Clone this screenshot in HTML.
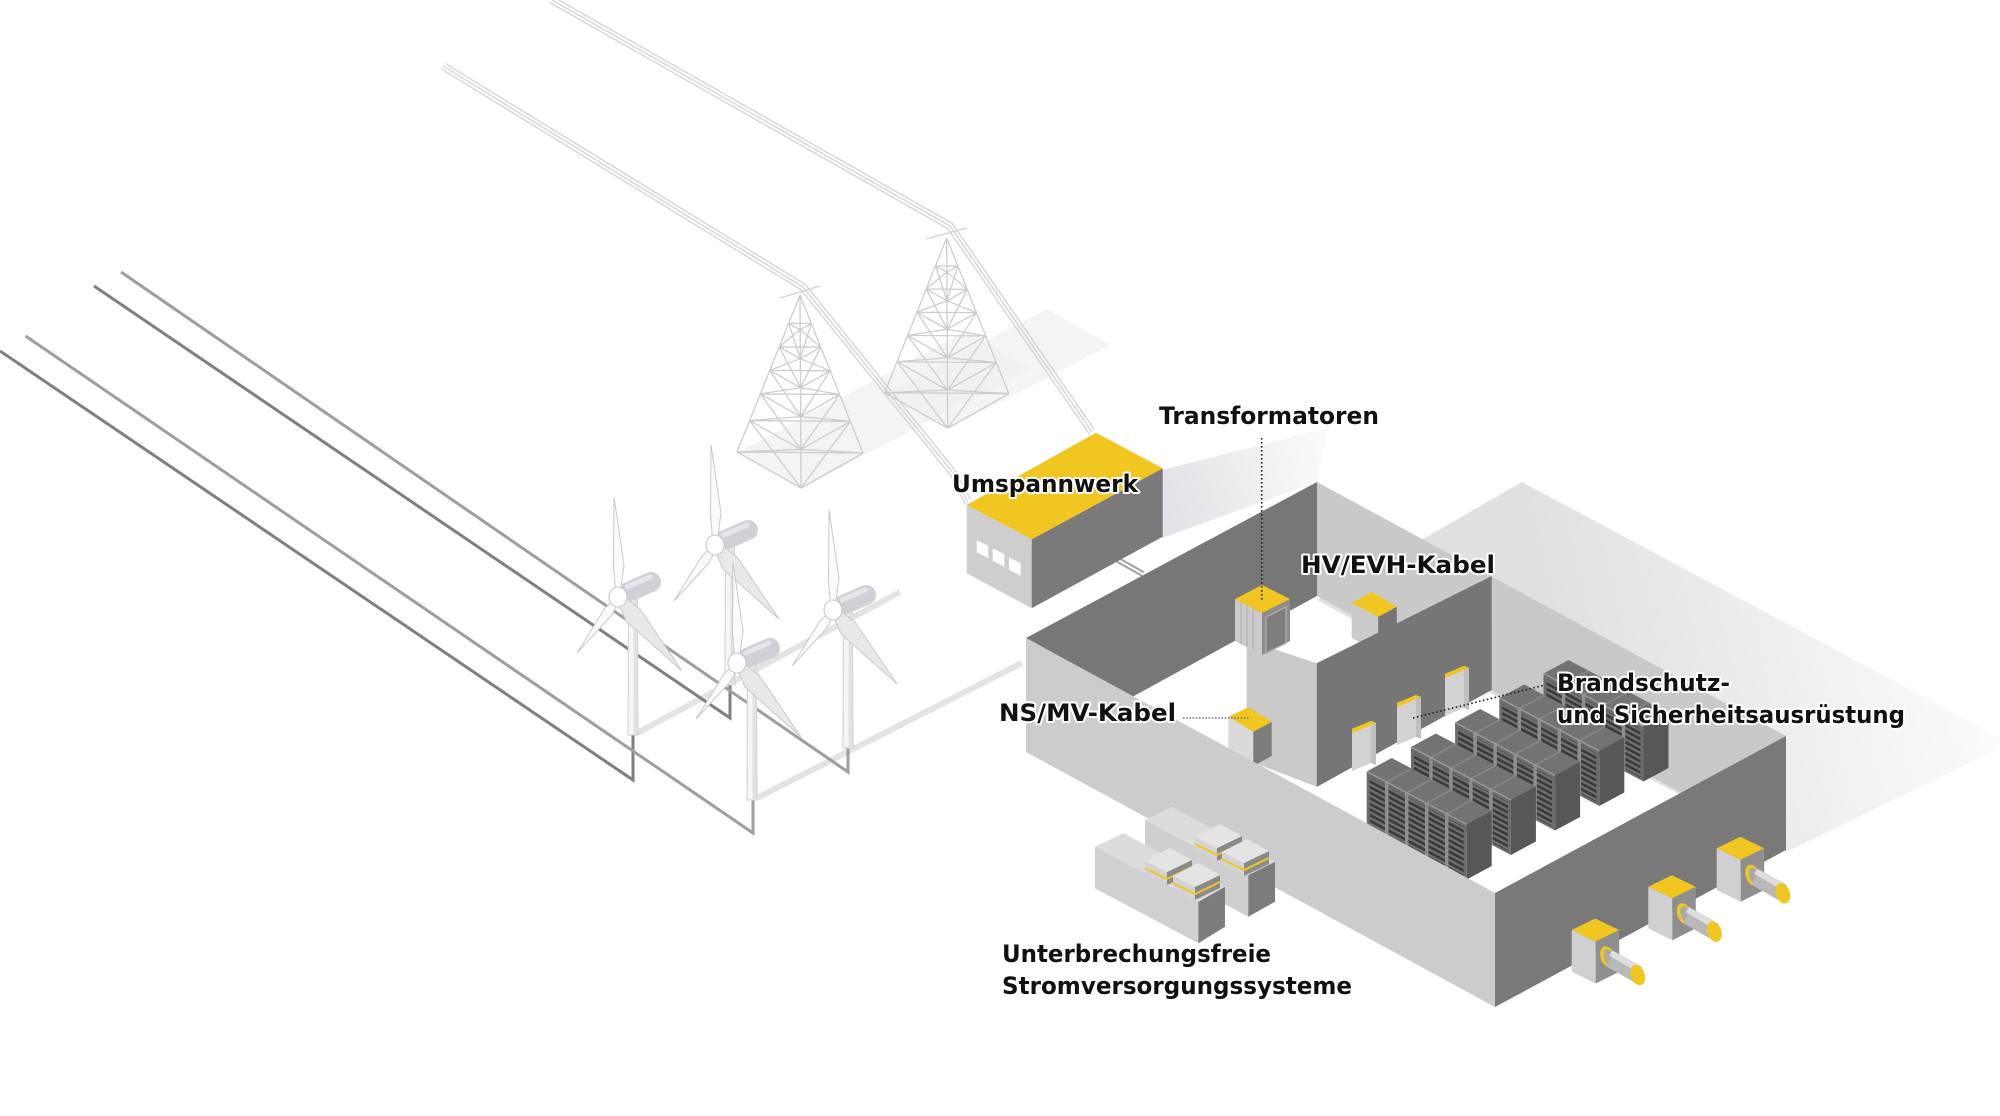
<!DOCTYPE html>
<html><head><meta charset="utf-8">
<style>
html,body{margin:0;padding:0;background:#fff;}
svg{display:block;}
.lbl{font-family:"DejaVu Sans","Liberation Sans",sans-serif;font-weight:bold;font-size:24px;fill:#111;stroke:#fff;stroke-width:4px;paint-order:stroke;stroke-linejoin:round;}
</style></head><body>
<svg width="2000" height="1116" viewBox="0 0 2000 1116" xmlns="http://www.w3.org/2000/svg">
<defs>
 <linearGradient id="bshadow" gradientUnits="userSpaceOnUse" x1="1560" y1="660" x2="1990" y2="560">
  <stop offset="0" stop-color="#e0e0e0"/><stop offset="1" stop-color="#fefefe"/>
 </linearGradient>
 <linearGradient id="ushadow" gradientUnits="userSpaceOnUse" x1="1163" y1="500" x2="1330" y2="450">
  <stop offset="0" stop-color="#e2e2e7"/><stop offset="1" stop-color="#fbfbfb"/>
 </linearGradient>
 <pattern id="vent" width="20" height="5.6" patternUnits="userSpaceOnUse" patternTransform="skewY(28)">
  <rect width="20" height="5.6" fill="#707070"/>
  <rect y="1.2" width="20" height="3" fill="#3a3a3a"/>
 </pattern>
</defs>
<rect width="2000" height="1116" fill="#fff"/>

<!-- shadows -->
<polygon points="1522,482 2010,743 1786,852 1317,600" fill="url(#bshadow)"/>
<polygon points="1162,470 1328,428 1317,482 1162,538" fill="url(#ushadow)"/>
<polygon points="738,452 801,489 1030,368 967,331" fill="#f0f0f0" opacity="0.7"/>
<polygon points="885,393 948,429 1110,345 1047,309" fill="#f0f0f0" opacity="0.7"/>

<!-- power lines -->
<g fill="none" stroke="#d2d2d2" stroke-width="1.3">
 <polyline points="552,0 950,226 1092,432"/>
 <polyline points="552,0 950,226 1092,432" transform="translate(-2.3,2.5)"/>
 <polyline points="552,0 950,226 1092,432" transform="translate(2.3,-2.5)"/>
 <polyline points="443,66 803,287 953,473 968,502"/>
 <polyline points="443,66 803,287 953,473 968,502" transform="translate(-2.3,2.5)"/>
 <polyline points="443,66 803,287 953,473 968,502" transform="translate(2.3,-2.5)"/>
 <line x1="780" y1="298" x2="820" y2="286"/>
 <line x1="926" y1="239" x2="967" y2="228"/>
</g>

<!-- pylons -->
<g fill="none" stroke="#cdcdcd" stroke-width="1.3">
 <g transform="translate(800,295)">
  <path d="M0,0L-63,157M0,0L63,158M0,0L1,193
  M-11.3,28.3L0.2,34.7L11.3,28.4M-11.3,28.3L11.3,28.4
  M-20.8,51.8L0.3,63.7L20.8,52.1M-20.8,51.8L20.8,52.1
  M-30.2,75.4L0.5,92.6L30.2,75.8M-30.2,75.4L30.2,75.8
  M-39.7,98.9L0.6,121.6L39.7,99.5M-39.7,98.9L39.7,99.5
  M-50.4,125.6L0.8,154.4L50.4,126.4M-50.4,125.6L50.4,126.4
  M-63,157L1,193L63,158M-63,157L63,158
  M-11.3,28.3L0.3,63.7M0.2,34.7L-20.8,51.8M0.2,34.7L20.8,52.1M11.3,28.4L0.3,63.7
  M-20.8,51.8L0.5,92.6M0.3,63.7L-30.2,75.4M0.3,63.7L30.2,75.8M20.8,52.1L0.5,92.6
  M-30.2,75.4L0.6,121.6M0.5,92.6L-39.7,98.9M0.5,92.6L39.7,99.5M30.2,75.8L0.6,121.6
  M-39.7,98.9L0.8,154.4M0.6,121.6L-50.4,125.6M0.6,121.6L50.4,126.4M39.7,99.5L0.8,154.4
  M-50.4,125.6L1,193M0.8,154.4L-63,157M0.8,154.4L63,158M50.4,126.4L1,193"/>
 </g>
 <g transform="translate(946.7,238) scale(0.985)">
  <path d="M0,0L-63,157M0,0L63,158M0,0L1,193
  M-11.3,28.3L0.2,34.7L11.3,28.4M-11.3,28.3L11.3,28.4
  M-20.8,51.8L0.3,63.7L20.8,52.1M-20.8,51.8L20.8,52.1
  M-30.2,75.4L0.5,92.6L30.2,75.8M-30.2,75.4L30.2,75.8
  M-39.7,98.9L0.6,121.6L39.7,99.5M-39.7,98.9L39.7,99.5
  M-50.4,125.6L0.8,154.4L50.4,126.4M-50.4,125.6L50.4,126.4
  M-63,157L1,193L63,158M-63,157L63,158
  M-11.3,28.3L0.3,63.7M0.2,34.7L-20.8,51.8M0.2,34.7L20.8,52.1M11.3,28.4L0.3,63.7
  M-20.8,51.8L0.5,92.6M0.3,63.7L-30.2,75.4M0.3,63.7L30.2,75.8M20.8,52.1L0.5,92.6
  M-30.2,75.4L0.6,121.6M0.5,92.6L-39.7,98.9M0.5,92.6L39.7,99.5M30.2,75.8L0.6,121.6
  M-39.7,98.9L0.8,154.4M0.6,121.6L-50.4,125.6M0.6,121.6L50.4,126.4M39.7,99.5L0.8,154.4
  M-50.4,125.6L1,193M0.8,154.4L-63,157M0.8,154.4L63,158M50.4,126.4L1,193"/>
 </g>
</g>

<!-- ground cable bands -->
<line x1="637" y1="733" x2="900" y2="592" stroke="#e3e3e3" stroke-width="6"/>
<line x1="757" y1="798" x2="1022" y2="663" stroke="#e3e3e3" stroke-width="6"/>

<!-- dark ground lines -->
<g fill="none" stroke-width="3" stroke-linejoin="miter">
 <polyline points="0,351 633,780 633,735" stroke="#7f7f7f"/>
 <polyline points="25.5,336 753,833 753,798" stroke="#9e9e9e"/>
 <polyline points="94,286 730,718 730,685" stroke="#7f7f7f"/>
 <polyline points="121,272 848,772 848,748" stroke="#9e9e9e"/>
</g>

<!-- turbines (B, A, D, C) -->
<g transform="translate(715,545)">
 <polygon points="10.5,-2 19.5,-2 20,140 10,140" fill="#f6f6f6" stroke="#cfcfcf" stroke-width="1"/>
 <rect x="15.5" y="0" width="4" height="139" fill="#e2e2e2"/>
 <line x1="8" y1="-4" x2="33" y2="-15" stroke="#d0d0d7" stroke-width="20" stroke-linecap="round"/>
 <line x1="9" y1="-10" x2="32" y2="-20" stroke="#e6e6ea" stroke-width="5" stroke-linecap="round"/>
 <polygon points="2.5,-6 6,-32 -4,-100 -4.5,-30 -2.5,-6" fill="#fbfbfb" stroke="#c9c9c9" stroke-width="1"/>
 <polygon points="2,3 -7,19 -41,56 -13,11 -1,0" fill="#fbfbfb" stroke="#c9c9c9" stroke-width="1"/>
 <polygon points="4,-2 22,12 64,74 8,24 -1,3" fill="#e9e9e9" stroke="#c9c9c9" stroke-width="1"/>
 <ellipse cx="0" cy="0" rx="9" ry="10" fill="#fff" stroke="#c4c4c4" stroke-width="1"/>
</g>
<g transform="translate(618,597)">
 <polygon points="10.5,-2 19.5,-2 20,138 10,138" fill="#f6f6f6" stroke="#cfcfcf" stroke-width="1"/>
 <rect x="15.5" y="0" width="4" height="137" fill="#e2e2e2"/>
 <line x1="8" y1="-4" x2="33" y2="-15" stroke="#d0d0d7" stroke-width="20" stroke-linecap="round"/>
 <line x1="9" y1="-10" x2="32" y2="-20" stroke="#e6e6ea" stroke-width="5" stroke-linecap="round"/>
 <polygon points="2.5,-6 6,-32 -4,-100 -4.5,-30 -2.5,-6" fill="#fbfbfb" stroke="#c9c9c9" stroke-width="1"/>
 <polygon points="2,3 -7,19 -41,56 -13,11 -1,0" fill="#fbfbfb" stroke="#c9c9c9" stroke-width="1"/>
 <polygon points="4,-2 22,12 64,74 8,24 -1,3" fill="#e9e9e9" stroke="#c9c9c9" stroke-width="1"/>
 <ellipse cx="0" cy="0" rx="9" ry="10" fill="#fff" stroke="#c4c4c4" stroke-width="1"/>
</g>
<g transform="translate(833,610)">
 <polygon points="10.5,-2 19.5,-2 20,138 10,138" fill="#f6f6f6" stroke="#cfcfcf" stroke-width="1"/>
 <rect x="15.5" y="0" width="4" height="137" fill="#e2e2e2"/>
 <line x1="8" y1="-4" x2="33" y2="-15" stroke="#d0d0d7" stroke-width="20" stroke-linecap="round"/>
 <line x1="9" y1="-10" x2="32" y2="-20" stroke="#e6e6ea" stroke-width="5" stroke-linecap="round"/>
 <polygon points="2.5,-6 6,-32 -4,-100 -4.5,-30 -2.5,-6" fill="#fbfbfb" stroke="#c9c9c9" stroke-width="1"/>
 <polygon points="2,3 -7,19 -41,56 -13,11 -1,0" fill="#fbfbfb" stroke="#c9c9c9" stroke-width="1"/>
 <polygon points="4,-2 22,12 64,74 8,24 -1,3" fill="#e9e9e9" stroke="#c9c9c9" stroke-width="1"/>
 <ellipse cx="0" cy="0" rx="9" ry="10" fill="#fff" stroke="#c4c4c4" stroke-width="1"/>
</g>
<g transform="translate(737,663)">
 <polygon points="10.5,-2 19.5,-2 20,137 10,137" fill="#f6f6f6" stroke="#cfcfcf" stroke-width="1"/>
 <rect x="15.5" y="0" width="4" height="136" fill="#e2e2e2"/>
 <line x1="8" y1="-4" x2="33" y2="-15" stroke="#d0d0d7" stroke-width="20" stroke-linecap="round"/>
 <line x1="9" y1="-10" x2="32" y2="-20" stroke="#e6e6ea" stroke-width="5" stroke-linecap="round"/>
 <polygon points="2.5,-6 6,-32 -4,-100 -4.5,-30 -2.5,-6" fill="#fbfbfb" stroke="#c9c9c9" stroke-width="1"/>
 <polygon points="2,3 -7,19 -41,56 -13,11 -1,0" fill="#fbfbfb" stroke="#c9c9c9" stroke-width="1"/>
 <polygon points="4,-2 22,12 64,74 8,24 -1,3" fill="#e9e9e9" stroke="#c9c9c9" stroke-width="1"/>
 <ellipse cx="0" cy="0" rx="9" ry="10" fill="#fff" stroke="#c4c4c4" stroke-width="1"/>
</g>

<!-- Umspannwerk -->
<line x1="1118" y1="560" x2="1143" y2="574" stroke="#a0a0a0" stroke-width="6"/>
<line x1="1118" y1="560" x2="1143" y2="574" stroke="#fff" stroke-width="2"/>
<polygon points="966.7,505 1031.7,539.3 1031.7,608.3 966.7,573.3" fill="#cecece"/>
<polygon points="1031.7,539.3 1162.7,468.3 1162.7,536.7 1031.7,608.3" fill="#7a7a7a"/>
<polygon points="966.7,505 1096,432.7 1162.7,468.3 1031.7,539.3" fill="#f1c620"/>
<polygon points="976.7,540 988.3,546 988.3,558.3 976.7,552.3" fill="#fff"/>
<polygon points="992.7,548.3 1004.3,554.3 1004.3,566.7 992.7,560.7" fill="#fff"/>
<polygon points="1009,557.3 1020.7,563.3 1020.7,575.7 1009,569.7" fill="#fff"/>

<!-- building back walls -->
<polygon points="1026,638 1317,482 1317,596 1132,697" fill="#777777"/>
<polygon points="1317,482 1786,736 1681,793 1317,596" fill="#c9c9c9"/>

<!-- inner room -->
<polygon points="1246.7,640 1316.7,663.3 1316.7,786.7 1246.7,760" fill="#cacaca"/>
<!-- transformer -->
<polygon points="1235,599 1262,613 1262,655 1235,641" fill="#cbcbcb"/>
<g stroke="#b2b2b2" stroke-width="1.2">
 <line x1="1241" y1="603" x2="1241" y2="644"/>
 <line x1="1247" y1="606" x2="1247" y2="647"/>
 <line x1="1253" y1="609" x2="1253" y2="650"/>
</g>
<polygon points="1262,613 1290,599 1290,641 1262,655" fill="#8c8c8c"/>
<polygon points="1266,617 1286,607 1286,643 1266,653" fill="#7d7d7d" stroke="#a9a9a9" stroke-width="1.5"/>
<polygon points="1235,599 1262,585 1290,599 1262,613" fill="#f1c620"/>
<!-- HV box -->
<polygon points="1351.7,603.3 1378.3,616.7 1378.3,652 1351.7,638" fill="#cbcbcb"/>
<polygon points="1378.3,616.7 1396.7,606.7 1396.7,645 1378.3,655" fill="#767676"/>
<polygon points="1351.7,603.3 1371.7,591.7 1396.7,606.7 1378.3,616.7" fill="#f1c620"/>
<!-- partition dark face -->
<polygon points="1316.7,663.3 1491.7,576 1491.7,690 1316.7,787" fill="#767676"/>
<polygon points="1378.3,617 1396.7,607 1396.7,624 1378.3,633" fill="#767676"/>

<!-- fire safety units -->
<g transform="translate(1352,729)">
 <polygon points="0,0 19,-8 19,34 0,42" fill="#d2d2d2"/>
 <polygon points="19,-8 24,-6 24,36 19,34" fill="#c0c0c0"/>
 <polygon points="0,0 19,-8 24,-6 5,2" fill="#f1c620"/>
 <polygon points="0,0 19,-8 19,-4 0,4" fill="#f1c620"/>
</g>
<g transform="translate(1397,703)">
 <polygon points="0,0 19,-8 19,34 0,42" fill="#d2d2d2"/>
 <polygon points="19,-8 24,-6 24,36 19,34" fill="#c0c0c0"/>
 <polygon points="0,0 19,-8 24,-6 5,2" fill="#f1c620"/>
 <polygon points="0,0 19,-8 19,-4 0,4" fill="#f1c620"/>
</g>
<g transform="translate(1445,674)">
 <polygon points="0,0 19,-8 19,34 0,42" fill="#d2d2d2"/>
 <polygon points="19,-8 24,-6 24,36 19,34" fill="#c0c0c0"/>
 <polygon points="0,0 19,-8 24,-6 5,2" fill="#f1c620"/>
 <polygon points="0,0 19,-8 19,-4 0,4" fill="#f1c620"/>
</g>

<!-- NS unit -->
<polygon points="1228.3,716.7 1253.3,731.7 1253.3,765 1228.3,751" fill="#dadada"/>
<polygon points="1253.3,731.7 1271.7,721.7 1271.7,756 1253.3,766" fill="#7c7c7c"/>
<polygon points="1228.3,716.7 1248.3,707.3 1271.7,721.7 1253.3,731.7" fill="#f1c620"/>

<!-- rack rows, back to front -->
<g transform="translate(1543.5,673.5)">
 <polygon points="0,0 100,53 125,39.5 25,-13.5" fill="#737373"/>
 <polygon points="100,53 125,39.5 125,94.5 100,108" fill="#575757"/>
 <polygon points="0,0 100,53 100,108 0,55" fill="#6c6c6c"/>
 <polygon points="3,5.5 97,55.3 97,104 3,54" fill="url(#vent)"/>
 <g stroke="#8e8e8e" stroke-width="3.5"><line x1="20" y1="10.6" x2="20" y2="65.6"/><line x1="40" y1="21.2" x2="40" y2="76.2"/><line x1="60" y1="31.8" x2="60" y2="86.8"/><line x1="80" y1="42.4" x2="80" y2="97.4"/></g>
 <g stroke="#888" stroke-width="1.5"><line x1="20" y1="10.6" x2="45" y2="-2.9"/><line x1="40" y1="21.2" x2="65" y2="7.7"/><line x1="60" y1="31.8" x2="85" y2="18.3"/><line x1="80" y1="42.4" x2="105" y2="28.9"/></g>
 <line x1="0" y1="0" x2="100" y2="53" stroke="#999" stroke-width="1.5"/>
</g>
<g transform="translate(1499.3,698)">
 <polygon points="0,0 100,53 125,39.5 25,-13.5" fill="#737373"/>
 <polygon points="100,53 125,39.5 125,94.5 100,108" fill="#575757"/>
 <polygon points="0,0 100,53 100,108 0,55" fill="#6c6c6c"/>
 <polygon points="3,5.5 97,55.3 97,104 3,54" fill="url(#vent)"/>
 <g stroke="#8e8e8e" stroke-width="3.5"><line x1="20" y1="10.6" x2="20" y2="65.6"/><line x1="40" y1="21.2" x2="40" y2="76.2"/><line x1="60" y1="31.8" x2="60" y2="86.8"/><line x1="80" y1="42.4" x2="80" y2="97.4"/></g>
 <g stroke="#888" stroke-width="1.5"><line x1="20" y1="10.6" x2="45" y2="-2.9"/><line x1="40" y1="21.2" x2="65" y2="7.7"/><line x1="60" y1="31.8" x2="85" y2="18.3"/><line x1="80" y1="42.4" x2="105" y2="28.9"/></g>
 <line x1="0" y1="0" x2="100" y2="53" stroke="#999" stroke-width="1.5"/>
</g>
<g transform="translate(1455.1,722.5)">
 <polygon points="0,0 100,53 125,39.5 25,-13.5" fill="#737373"/>
 <polygon points="100,53 125,39.5 125,94.5 100,108" fill="#575757"/>
 <polygon points="0,0 100,53 100,108 0,55" fill="#6c6c6c"/>
 <polygon points="3,5.5 97,55.3 97,104 3,54" fill="url(#vent)"/>
 <g stroke="#8e8e8e" stroke-width="3.5"><line x1="20" y1="10.6" x2="20" y2="65.6"/><line x1="40" y1="21.2" x2="40" y2="76.2"/><line x1="60" y1="31.8" x2="60" y2="86.8"/><line x1="80" y1="42.4" x2="80" y2="97.4"/></g>
 <g stroke="#888" stroke-width="1.5"><line x1="20" y1="10.6" x2="45" y2="-2.9"/><line x1="40" y1="21.2" x2="65" y2="7.7"/><line x1="60" y1="31.8" x2="85" y2="18.3"/><line x1="80" y1="42.4" x2="105" y2="28.9"/></g>
 <line x1="0" y1="0" x2="100" y2="53" stroke="#999" stroke-width="1.5"/>
</g>
<g transform="translate(1410.9,747)">
 <polygon points="0,0 100,53 125,39.5 25,-13.5" fill="#737373"/>
 <polygon points="100,53 125,39.5 125,94.5 100,108" fill="#575757"/>
 <polygon points="0,0 100,53 100,108 0,55" fill="#6c6c6c"/>
 <polygon points="3,5.5 97,55.3 97,104 3,54" fill="url(#vent)"/>
 <g stroke="#8e8e8e" stroke-width="3.5"><line x1="20" y1="10.6" x2="20" y2="65.6"/><line x1="40" y1="21.2" x2="40" y2="76.2"/><line x1="60" y1="31.8" x2="60" y2="86.8"/><line x1="80" y1="42.4" x2="80" y2="97.4"/></g>
 <g stroke="#888" stroke-width="1.5"><line x1="20" y1="10.6" x2="45" y2="-2.9"/><line x1="40" y1="21.2" x2="65" y2="7.7"/><line x1="60" y1="31.8" x2="85" y2="18.3"/><line x1="80" y1="42.4" x2="105" y2="28.9"/></g>
 <line x1="0" y1="0" x2="100" y2="53" stroke="#999" stroke-width="1.5"/>
</g>
<g transform="translate(1366.7,771.5)">
 <polygon points="0,0 100,53 125,39.5 25,-13.5" fill="#737373"/>
 <polygon points="100,53 125,39.5 125,94.5 100,108" fill="#575757"/>
 <polygon points="0,0 100,53 100,108 0,55" fill="#6c6c6c"/>
 <polygon points="3,5.5 97,55.3 97,104 3,54" fill="url(#vent)"/>
 <g stroke="#8e8e8e" stroke-width="3.5"><line x1="20" y1="10.6" x2="20" y2="65.6"/><line x1="40" y1="21.2" x2="40" y2="76.2"/><line x1="60" y1="31.8" x2="60" y2="86.8"/><line x1="80" y1="42.4" x2="80" y2="97.4"/></g>
 <g stroke="#888" stroke-width="1.5"><line x1="20" y1="10.6" x2="45" y2="-2.9"/><line x1="40" y1="21.2" x2="65" y2="7.7"/><line x1="60" y1="31.8" x2="85" y2="18.3"/><line x1="80" y1="42.4" x2="105" y2="28.9"/></g>
 <line x1="0" y1="0" x2="100" y2="53" stroke="#999" stroke-width="1.5"/>
</g>

<!-- front walls -->
<polygon points="1026,638 1495,893 1495,1007 1026,752" fill="#cccccc"/>
<polygon points="1495,893 1786,736 1786,850 1495,1007" fill="#797979"/>

<!-- pipe units -->
<g transform="translate(1716.7,848.3)">
 <polygon points="0,0 24,11.5 24,53.5 0,41.7" fill="#d0d0d0"/>
 <polygon points="24,11.5 47.5,0 47.5,41.7 24,53.5" fill="#8f8f8f"/>
 <polygon points="0,0 23.5,-11.5 47.5,0 24,11.5" fill="#f1c620"/>
 <ellipse cx="36" cy="27" rx="7" ry="11" fill="#f1c620" transform="rotate(-20 36 27)"/>
 <ellipse cx="37.5" cy="27.5" rx="5" ry="8.5" fill="#a9a9a9" transform="rotate(-20 37.5 27.5)"/>
 <line x1="39" y1="29" x2="66" y2="44.5" stroke="#b9b9b9" stroke-width="17"/>
 <line x1="39" y1="23" x2="64" y2="37.5" stroke="#dedede" stroke-width="6"/>
 <ellipse cx="66" cy="45" rx="7" ry="10.5" fill="#f1c620" transform="rotate(-20 66 45)"/>
</g>
<g transform="translate(1648.3,886.7)">
 <polygon points="0,0 24,11.5 24,53.5 0,41.7" fill="#d0d0d0"/>
 <polygon points="24,11.5 47.5,0 47.5,41.7 24,53.5" fill="#8f8f8f"/>
 <polygon points="0,0 23.5,-11.5 47.5,0 24,11.5" fill="#f1c620"/>
 <ellipse cx="36" cy="27" rx="7" ry="11" fill="#f1c620" transform="rotate(-20 36 27)"/>
 <ellipse cx="37.5" cy="27.5" rx="5" ry="8.5" fill="#a9a9a9" transform="rotate(-20 37.5 27.5)"/>
 <line x1="39" y1="29" x2="66" y2="44.5" stroke="#b9b9b9" stroke-width="17"/>
 <line x1="39" y1="23" x2="64" y2="37.5" stroke="#dedede" stroke-width="6"/>
 <ellipse cx="66" cy="45" rx="7" ry="10.5" fill="#f1c620" transform="rotate(-20 66 45)"/>
</g>
<g transform="translate(1571.7,930)">
 <polygon points="0,0 24,11.5 24,53.5 0,41.7" fill="#d0d0d0"/>
 <polygon points="24,11.5 47.5,0 47.5,41.7 24,53.5" fill="#8f8f8f"/>
 <polygon points="0,0 23.5,-11.5 47.5,0 24,11.5" fill="#f1c620"/>
 <ellipse cx="36" cy="27" rx="7" ry="11" fill="#f1c620" transform="rotate(-20 36 27)"/>
 <ellipse cx="37.5" cy="27.5" rx="5" ry="8.5" fill="#a9a9a9" transform="rotate(-20 37.5 27.5)"/>
 <line x1="39" y1="29" x2="66" y2="44.5" stroke="#b9b9b9" stroke-width="17"/>
 <line x1="39" y1="23" x2="64" y2="37.5" stroke="#dedede" stroke-width="6"/>
 <ellipse cx="66" cy="45" rx="7" ry="10.5" fill="#f1c620" transform="rotate(-20 66 45)"/>
</g>

<!-- UPS units -->
<polygon points="1145,820 1248.3,875 1248.3,916.7 1145,861.7" fill="#cfcfcf"/>
<polygon points="1248.3,875 1275,861.7 1275,901.7 1248.3,916.7" fill="#7c7c7c"/>
<polygon points="1145,820 1171.7,806.7 1275,861.7 1248.3,875" fill="#dcdcdc"/>
<g transform="translate(1195,837)">
 <polygon points="0,0 22,11 22,24 0,13" fill="#d3d3d3"/>
 <polygon points="22,11 47,-1 47,12 22,24" fill="#8a8a8a"/>
 <polygon points="0,0 25,-13 47,-1 22,11" fill="#e4e4e4"/>
 <polyline points="0,7 22,18 47,6" fill="none" stroke="#f1c620" stroke-width="2"/>
</g>
<g transform="translate(1222,852)">
 <polygon points="0,0 22,11 22,24 0,13" fill="#d3d3d3"/>
 <polygon points="22,11 47,-1 47,12 22,24" fill="#8a8a8a"/>
 <polygon points="0,0 25,-13 47,-1 22,11" fill="#e4e4e4"/>
 <polyline points="0,7 22,18 47,6" fill="none" stroke="#f1c620" stroke-width="2"/>
</g>
<polygon points="1095,846.7 1198.3,901.7 1198.3,943.3 1095,888.3" fill="#d0d0d0"/>
<polygon points="1198.3,901.7 1225,886.7 1225,926.7 1198.3,943.3" fill="#7c7c7c"/>
<polygon points="1095,846.7 1123.3,833.3 1225,886.7 1198.3,901.7" fill="#dcdcdc"/>
<g transform="translate(1145,861)">
 <polygon points="0,0 22,11 22,24 0,13" fill="#d3d3d3"/>
 <polygon points="22,11 47,-1 47,12 22,24" fill="#8a8a8a"/>
 <polygon points="0,0 25,-13 47,-1 22,11" fill="#e4e4e4"/>
 <polyline points="0,7 22,18 47,6" fill="none" stroke="#f1c620" stroke-width="2"/>
</g>
<g transform="translate(1173,876)">
 <polygon points="0,0 22,11 22,24 0,13" fill="#d3d3d3"/>
 <polygon points="22,11 47,-1 47,12 22,24" fill="#8a8a8a"/>
 <polygon points="0,0 25,-13 47,-1 22,11" fill="#e4e4e4"/>
 <polyline points="0,7 22,18 47,6" fill="none" stroke="#f1c620" stroke-width="2"/>
</g>

<!-- leader lines -->
<g fill="none" stroke="#222" stroke-width="1.6" stroke-dasharray="1.6 2.4">
 <line x1="1261.7" y1="438" x2="1261.7" y2="600"/>
 <line x1="1413" y1="718" x2="1545" y2="685"/>
</g>
<line x1="1183" y1="718" x2="1250" y2="718" stroke="#777" stroke-width="1.6" stroke-dasharray="1.6 1.6"/>

<!-- labels -->
<text class="lbl" x="1159" y="424" textLength="220" lengthAdjust="spacingAndGlyphs">Transformatoren</text>
<text class="lbl" x="952" y="492" textLength="186" lengthAdjust="spacingAndGlyphs">Umspannwerk</text>
<text class="lbl" x="1301" y="573" textLength="194" lengthAdjust="spacingAndGlyphs">HV/EVH-Kabel</text>
<text class="lbl" x="999" y="721" textLength="177" lengthAdjust="spacingAndGlyphs">NS/MV-Kabel</text>
<text class="lbl" x="1557" y="691" textLength="173" lengthAdjust="spacingAndGlyphs">Brandschutz-</text>
<text class="lbl" x="1557" y="723" textLength="348" lengthAdjust="spacingAndGlyphs">und Sicherheitsausrüstung</text>
<text class="lbl" x="1002" y="962" textLength="269" lengthAdjust="spacingAndGlyphs">Unterbrechungsfreie</text>
<text class="lbl" x="1002" y="994" textLength="350" lengthAdjust="spacingAndGlyphs">Stromversorgungssysteme</text>
</svg>
</body></html>
